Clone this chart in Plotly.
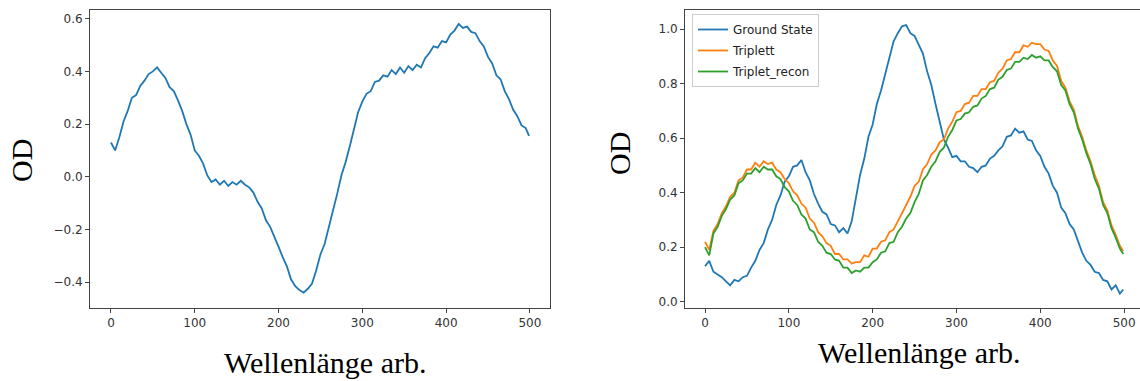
import plotly.graph_objects as go

# x positions (arb. wavelength units), sampled every 5 points
wl = list(range(0, 500, 5)) + [499]

# Left panel: difference spectrum
diff_od = [0.13, 0.10, 0.15, 0.21, 0.25, 0.30, 0.31, 0.345, 0.365, 0.39,
           0.40, 0.415, 0.395, 0.375, 0.34, 0.325, 0.29, 0.25, 0.20, 0.16,
           0.10, 0.08, 0.05, 0.005, -0.02, -0.01, -0.03, -0.015, -0.035, -0.02,
           -0.03, -0.015, -0.03, -0.04, -0.06, -0.095, -0.12, -0.165, -0.19, -0.225,
           -0.265, -0.305, -0.34, -0.39, -0.415, -0.43, -0.44, -0.425, -0.405, -0.355,
           -0.295, -0.255, -0.195, -0.125, -0.065, 0.005, 0.055, 0.115, 0.175, 0.245,
           0.285, 0.315, 0.325, 0.36, 0.365, 0.385, 0.38, 0.405, 0.39, 0.415,
           0.395, 0.42, 0.405, 0.425, 0.415, 0.45, 0.47, 0.495, 0.49, 0.515,
           0.51, 0.54, 0.555, 0.58, 0.565, 0.57, 0.55, 0.545, 0.515, 0.495,
           0.455, 0.43, 0.385, 0.37, 0.325, 0.295, 0.255, 0.23, 0.195, 0.185,
           0.155]

# Right panel
ground_state = [0.13, 0.15, 0.11, 0.10, 0.09, 0.075, 0.06, 0.08, 0.075, 0.09,
                0.095, 0.125, 0.15, 0.19, 0.215, 0.265, 0.30, 0.355, 0.39, 0.44,
                0.46, 0.495, 0.50, 0.52, 0.475, 0.445, 0.395, 0.36, 0.33, 0.32,
                0.285, 0.28, 0.255, 0.27, 0.25, 0.295, 0.375, 0.465, 0.525, 0.605,
                0.65, 0.725, 0.775, 0.835, 0.89, 0.955, 0.985, 1.01, 1.015, 0.985,
                0.975, 0.945, 0.91, 0.845, 0.795, 0.725, 0.665, 0.595, 0.565, 0.53,
                0.535, 0.515, 0.515, 0.495, 0.49, 0.475, 0.495, 0.50, 0.525, 0.535,
                0.555, 0.57, 0.605, 0.61, 0.635, 0.62, 0.625, 0.595, 0.59, 0.555,
                0.535, 0.495, 0.47, 0.425, 0.40, 0.345, 0.325, 0.285, 0.265, 0.22,
                0.18, 0.15, 0.135, 0.11, 0.105, 0.08, 0.075, 0.045, 0.06, 0.03,
                0.045]

triplett = [0.22, 0.19, 0.26, 0.285, 0.325, 0.35, 0.385, 0.40, 0.445, 0.455,
            0.485, 0.485, 0.51, 0.495, 0.515, 0.505, 0.51, 0.485, 0.475, 0.45,
            0.435, 0.405, 0.39, 0.36, 0.345, 0.305, 0.29, 0.255, 0.24, 0.215,
            0.205, 0.175, 0.175, 0.155, 0.155, 0.14, 0.145, 0.145, 0.17, 0.165,
            0.195, 0.195, 0.22, 0.225, 0.255, 0.265, 0.295, 0.325, 0.36, 0.385,
            0.425, 0.44, 0.485, 0.505, 0.54, 0.555, 0.585, 0.595, 0.635, 0.66,
            0.695, 0.70, 0.725, 0.73, 0.755, 0.755, 0.78, 0.78, 0.805, 0.81,
            0.84, 0.855, 0.885, 0.89, 0.915, 0.915, 0.94, 0.935, 0.95, 0.945,
            0.945, 0.925, 0.92, 0.885, 0.865, 0.81, 0.785, 0.735, 0.705, 0.645,
            0.605, 0.555, 0.515, 0.465, 0.425, 0.365, 0.335, 0.28, 0.245, 0.205,
            0.185]

triplet_recon = [0.20, 0.17, 0.25, 0.275, 0.315, 0.34, 0.375, 0.39, 0.435, 0.445,
                 0.47, 0.47, 0.49, 0.475, 0.495, 0.485, 0.485, 0.46, 0.45, 0.42,
                 0.405, 0.37, 0.355, 0.32, 0.305, 0.265, 0.255, 0.22, 0.205, 0.18,
                 0.175, 0.155, 0.15, 0.125, 0.125, 0.105, 0.115, 0.11, 0.125, 0.125,
                 0.145, 0.155, 0.18, 0.185, 0.215, 0.22, 0.255, 0.275, 0.305, 0.325,
                 0.365, 0.395, 0.445, 0.465, 0.495, 0.515, 0.55, 0.565, 0.605, 0.63,
                 0.665, 0.67, 0.69, 0.695, 0.715, 0.72, 0.745, 0.755, 0.78, 0.785,
                 0.815, 0.825, 0.85, 0.855, 0.88, 0.88, 0.895, 0.89, 0.905, 0.895,
                 0.90, 0.885, 0.885, 0.86, 0.845, 0.795, 0.775, 0.725, 0.695, 0.635,
                 0.595, 0.545, 0.505, 0.45, 0.415, 0.355, 0.325, 0.27, 0.235, 0.195,
                 0.175]

x_ticks = [0, 100, 200, 300, 400, 500]
left_y_ticks = [-0.4, -0.2, 0.0, 0.2, 0.4, 0.6]
right_y_ticks = [0.0, 0.2, 0.4, 0.6, 0.8, 1.0]

BLUE, ORANGE, GREEN = "#1f77b4", "#ff7f0e", "#2ca02c"
LW = 1.8

fig = go.Figure()
fig.add_trace(go.Scatter(x=wl, y=diff_od, mode="lines", line=dict(color=BLUE, width=LW),
                         xaxis="x", yaxis="y", showlegend=False))
fig.add_trace(go.Scatter(x=wl, y=ground_state, mode="lines", name="Ground State",
                         legendgroup="g1",
                         line=dict(color=BLUE, width=LW), xaxis="x2", yaxis="y2"))
fig.add_trace(go.Scatter(x=wl, y=triplett, mode="lines", name="Triplett",
                         legendgroup="g2",
                         line=dict(color=ORANGE, width=LW), xaxis="x2", yaxis="y2"))
fig.add_trace(go.Scatter(x=wl, y=triplet_recon, mode="lines", name="Triplet_recon",
                         legendgroup="g3",
                         line=dict(color=GREEN, width=LW), xaxis="x2", yaxis="y2"))

W, H = 1140, 381
ydom = [(H - 308) / H, (H - 10) / H]
tickfont = dict(family="DejaVu Sans", size=12, color="#333333")
axis_common = dict(showline=True, mirror=True, linecolor="#444444", linewidth=1,
                   ticks="outside", ticklen=4, tickcolor="#444444", tickwidth=1,
                   showgrid=False, zeroline=False, tickfont=tickfont)

fig.update_layout(
    width=W, height=H, margin=dict(l=0, r=0, t=0, b=0),
    paper_bgcolor="white", plot_bgcolor="white",
    xaxis=dict(domain=[90 / W, 550 / W], range=[-25, 524], tickvals=x_ticks,
               anchor="y", **axis_common),
    yaxis=dict(domain=ydom, range=[-0.498, 0.633], tickvals=left_y_ticks,
               tickformat=".1f", anchor="x", **axis_common),
    xaxis2=dict(domain=[685 / W, 1.0], range=[-23.9, 519], tickvals=x_ticks,
                anchor="y2", **axis_common),
    yaxis2=dict(domain=ydom, range=[-0.023, 1.07], tickvals=right_y_ticks,
                tickformat=".1f", anchor="x2", **axis_common),
    legend=dict(x=692 / W, y=1 - 14 / H, xanchor="left", yanchor="top",
                bgcolor="white", bordercolor="#cccccc", borderwidth=1,
                font=dict(family="DejaVu Sans", size=12, color="#222222"),
                tracegroupgap=2),
)

title_font = dict(family="Liberation Serif", size=30, color="black")
common_ann = dict(xref="paper", yref="paper", showarrow=False, font=title_font,
                  xanchor="center", yanchor="middle")
fig.add_annotation(text="OD", x=21 / W, y=1 - 160 / H, textangle=-90, **common_ann)
fig.add_annotation(text="OD", x=619 / W, y=1 - 154 / H, textangle=-90, **common_ann)
fig.add_annotation(text="Wellenlänge arb.", x=325 / W, y=1 - 362 / H, **common_ann)
fig.add_annotation(text="Wellenlänge arb.", x=919 / W, y=1 - 352 / H, **common_ann)

fig.write_html("out.html")
